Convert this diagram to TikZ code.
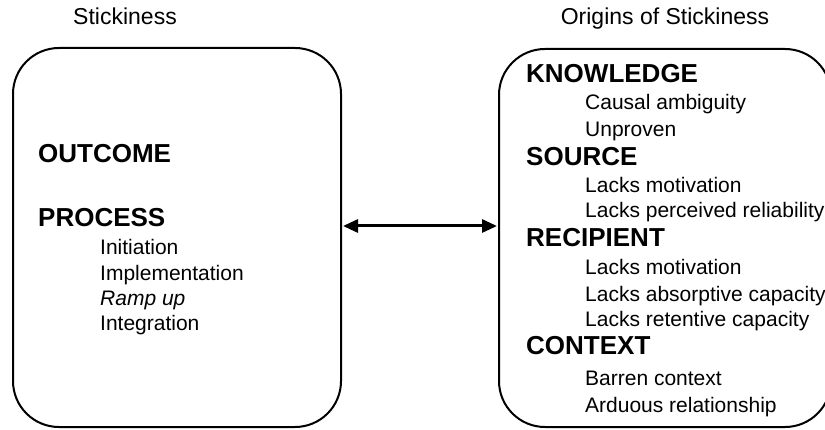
\documentclass[tikz,border=0pt]{standalone}
\usepackage{fontspec}
\setmainfont{Liberation Sans}
\usetikzlibrary{arrows.meta}
\tikzset{
  box/.style={draw=black, line width=2pt, rounded corners=46pt, inner sep=0pt},
  ttl/.style={anchor=base, inner sep=0pt, font=\fontsize{23}{27}\selectfont},
  head/.style={anchor=base west, inner sep=0pt, font=\fontsize{26}{30}\selectfont\bfseries},
  item/.style={anchor=base west, inner sep=0pt, font=\fontsize{21}{25}\selectfont},
  arr/.style={line width=3pt, {Triangle[length=15pt,width=13pt]}-{Triangle[length=15pt,width=13pt]}, shorten <=1pt, shorten >=1pt}
}
\begin{document}
\begin{tikzpicture}[x=1pt,y=-1pt]
\useasboundingbox (0,0) rectangle (825,430);
\clip (0,0) rectangle (825,430);
% titles
\node[ttl] (t1) at (125,25) {Stickiness};
\node[ttl] (t2) at (665,25) {Origins of Stickiness};
% boxes
\node[box, minimum width=328pt, minimum height=379pt] (L) at (177,237.5) {};
\node[box, minimum width=332pt, minimum height=378pt] (R) at (665,238) {};
% arrow
\draw[arr] ([yshift=11.5pt]L.east) -- ([yshift=12pt]R.west);
% left text
\node[head] (oc) at (38,163) {OUTCOME};
\node[head] (pr) at (38,227) {PROCESS};
\node[item] (p1) at (100,255) {Initiation};
\node[item] (p2) at (100,281) {Implementation};
\node[item] (p3) at (100,306) {\itshape Ramp up};
\node[item] (p4) at (100,331) {Integration};
% right text
\node[head] (kn) at (526,83) {KNOWLEDGE};
\node[item] (k1) at (585,110) {Causal ambiguity};
\node[item] (k2) at (585,137) {Unproven};
\node[head] (so) at (526,166) {SOURCE};
\node[item] (s1) at (585,193) {Lacks motivation};
\node[item] (s2) at (585,218) {Lacks perceived reliability};
\node[head] (re) at (526,247) {RECIPIENT};
\node[item] (r1) at (585,275) {Lacks motivation};
\node[item] (r2) at (585,302) {Lacks absorptive capacity};
\node[item] (r3) at (585,327) {Lacks retentive capacity};
\node[head] (co) at (526,355) {CONTEXT};
\node[item] (c1) at (585,385) {Barren context};
\node[item] (c2) at (585,412) {Arduous relationship};
\end{tikzpicture}
\end{document}
